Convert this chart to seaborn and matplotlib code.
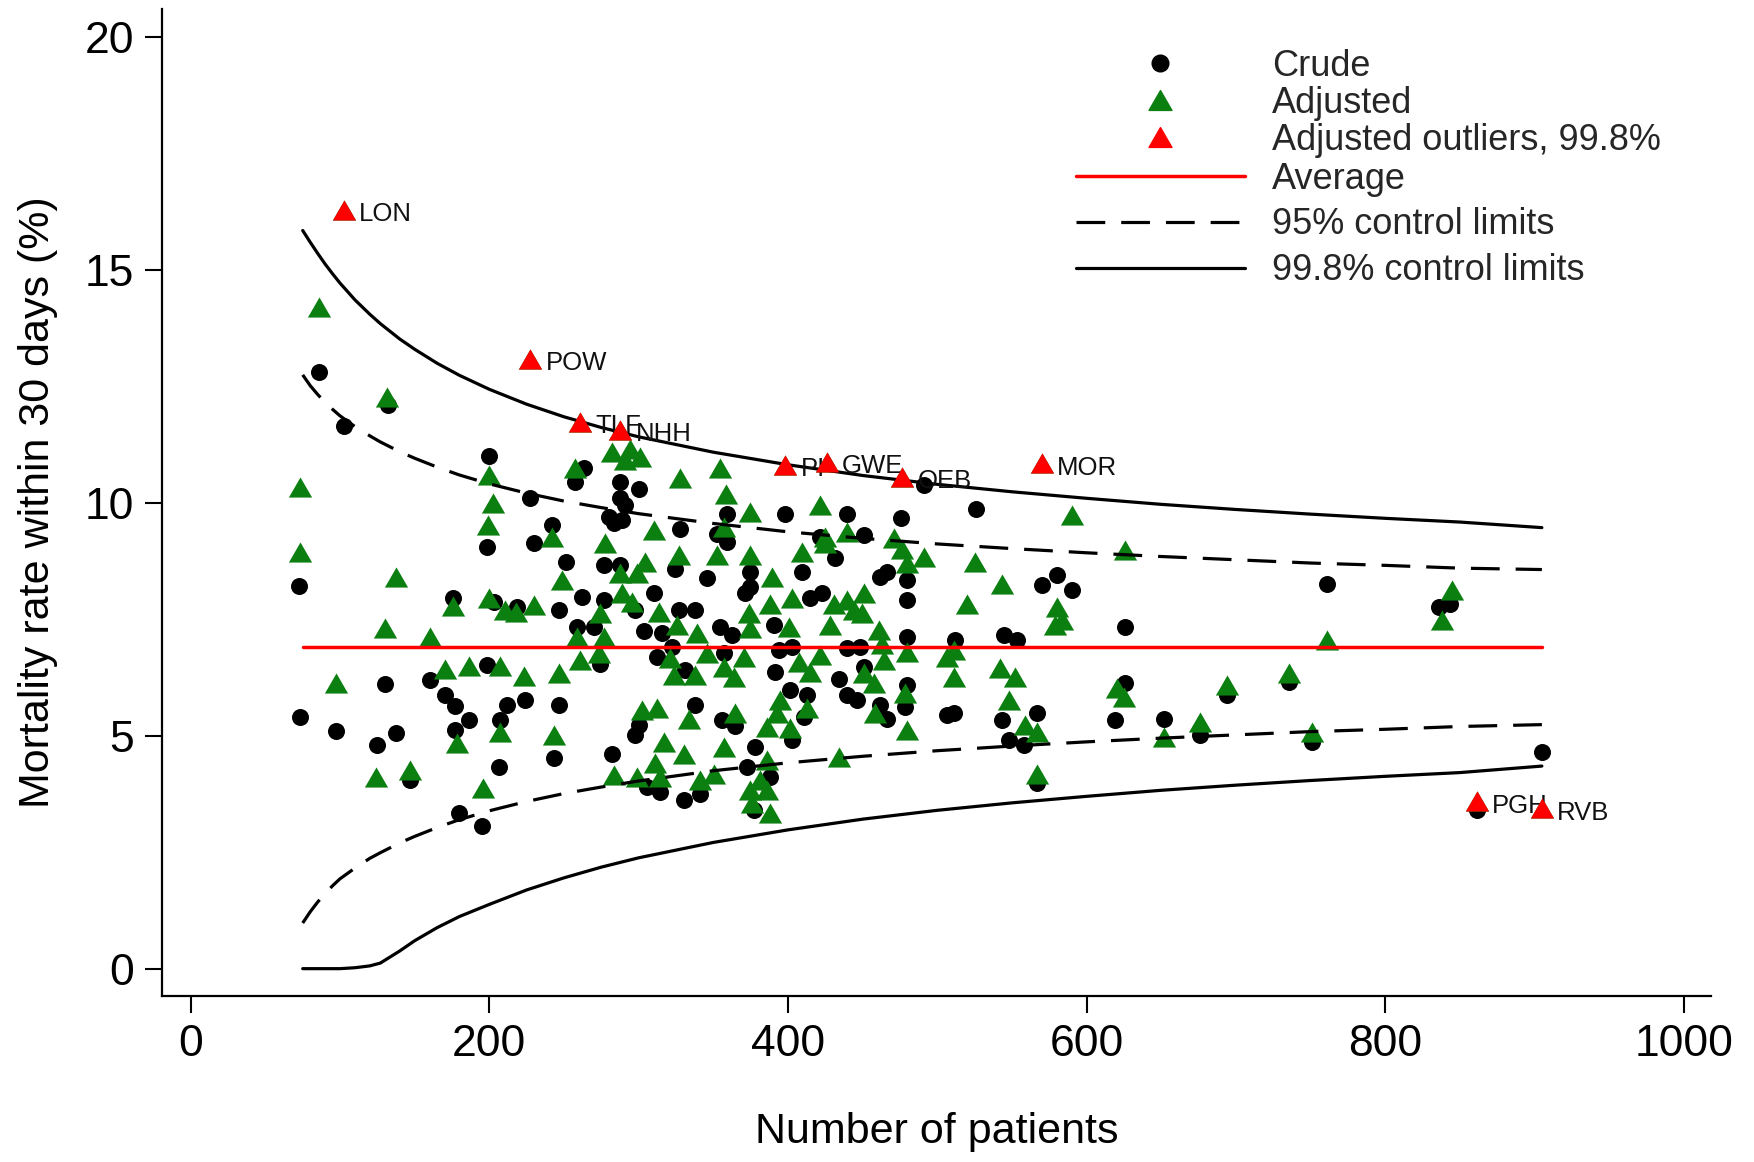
import numpy as np
import pandas as pd
import matplotlib
matplotlib.use("Agg")
import matplotlib.pyplot as plt
import seaborn as sns
from matplotlib.lines import Line2D
from matplotlib.path import Path
from matplotlib.markers import MarkerStyle

sns.set_theme(style="white")
plt.rcParams['font.family'] = ['Liberation Sans', 'DejaVu Sans']

# ---------------- data ----------------
crude_n = [102.5, 199.6, 198.5, 72.4, 175.7, 203, 218.6, 198.5, 130.4, 160.1,
           170.6, 177.3, 186.2, 211.9, 207, 73.5, 97.6, 124.8, 137.8, 177.3,
           146.7, 206.3, 179.5, 195.1, 132, 85.8,
           227.5, 257.6, 263.2, 287.8, 300, 287.8, 291.1, 280, 288.9, 283.3,
           242, 229.7, 327.9, 359.2, 352.5, 359.2, 251.6, 276.6, 287.8, 324.6,
           345.8, 374.8, 374.8, 371.5, 262.1, 246.5, 276.6, 297.8, 310.1, 326.8,
           338, 258.7, 269.9, 303.4, 315.7, 354.7, 362.5, 312.3, 322.4, 274.4,
           331.3, 357, 224, 246.5, 338, 300, 297.8, 355.8, 364.8, 378.2,
           243.1, 282.2, 305.6, 314.5, 330.2, 341.3, 372.6, 377.1,
           490.9, 526.1, 398.2, 439.5, 475.7, 450.7, 421.7, 431.7, 409.4, 461.9,
           466.3, 479.7, 479.7, 415, 422.8, 390.4, 479.7, 512.1, 393.8, 402.7,
           439.5, 448.5, 391.5, 434, 401.6, 412.7, 439.5, 446.2, 450.7, 479.7,
           478.6, 461.9, 466.3, 410.5, 402.7, 506.5, 511, 388.2,
           580.2, 570.2, 590.3, 626, 544.5, 553.5, 626, 543.4, 566.9, 547.9,
           557.9, 619.3, 651.7, 676.2, 694.1, 566.9,
           761, 735.4, 751, 835.8, 843.6, 905, 861.5]
crude_rate = [11.65, 11.0, 9.06, 8.21, 7.95, 7.88, 7.77, 6.52, 6.11, 6.2,
              5.87, 5.64, 5.35, 5.66, 5.34, 5.41, 5.11, 4.8, 5.07, 5.12,
              4.05, 4.34, 3.34, 3.06, 12.1, 12.82,
              10.1, 10.45, 10.74, 10.45, 10.31, 10.1, 9.95, 9.7, 9.63, 9.56,
              9.52, 9.13, 9.45, 9.77, 9.34, 9.17, 8.74, 8.67, 8.67, 8.59,
              8.38, 8.52, 8.2, 8.06, 7.99, 7.7, 7.91, 7.7, 8.06, 7.7,
              7.7, 7.34, 7.34, 7.24, 7.2, 7.34, 7.16, 6.7, 6.91, 6.55,
              6.41, 6.77, 5.77, 5.66, 5.66, 5.23, 5.02, 5.34, 5.2, 4.77,
              4.52, 4.62, 3.91, 3.8, 3.62, 3.76, 4.34, 3.41,
              10.38, 9.88, 9.77, 9.77, 9.67, 9.31, 9.27, 8.81, 8.52, 8.41,
              8.52, 8.34, 7.91, 7.95, 8.06, 7.38, 7.13, 7.05, 6.84, 6.91,
              6.88, 6.91, 6.38, 6.23, 5.98, 5.87, 5.87, 5.77, 6.48, 6.09,
              5.62, 5.66, 5.37, 5.41, 4.91, 5.45, 5.48, 4.12,
              8.45, 8.24, 8.13, 7.34, 7.16, 7.05, 6.13, 5.34, 5.48, 4.91,
              4.8, 5.34, 5.37, 5.02, 5.87, 3.98,
              8.27, 6.16, 4.87, 7.77, 7.84, 4.66, 3.41]

adj_n = [85.8, 131.5, 73.5, 73, 137.8, 130.4, 160.5, 175.7, 199.6, 210.8,
         218, 229.7, 199.6, 202.5, 199, 97.6, 170.6, 186.4, 207, 223,
         178.4, 207, 124.4, 146.7, 195.8,
         257.6, 282, 291, 301, 294, 328, 354.7, 358.7, 374.8, 357,
         310.5, 242, 277.7, 326.8, 352.5, 374.8, 304.5, 287.8, 299, 248.7,
         288.9, 295.6, 274.4, 313.4, 325.7, 339.1, 373.7, 374.8, 258.7, 276.6,
         261, 273.3, 321.2, 323.5, 338, 345.8, 357, 363.7, 370.3, 246.5,
         302.3, 312.3, 333.5, 364.8, 243.1, 316.8, 330.2, 357, 283.3, 299,
         311.2, 314.5, 341.3, 350.3, 374.8, 375.9,
         421.7, 439.5, 425, 425, 409.4, 470.8, 476.4, 479.7, 490.9, 525.5,
         389.3, 402.7, 388.2, 450.7, 430.6, 439.5, 444, 449.6, 428.4, 400.5,
         460.7, 463, 519.9, 421.7, 407.2, 415, 464.1, 479.7, 506.5, 511,
         511, 450.7, 457.4, 478.6, 394.9, 392.7, 412.7, 458.5, 386, 401.6,
         479.7, 434, 386, 381.5, 388.2, 386,
         590.3, 626, 543.4, 580.2, 583.6, 579.1, 542.3, 552.3, 547.9, 559,
         566.9, 620.4, 624.9, 694.1, 651.7, 676.2, 566.9,
         761, 735.4, 751, 844.7, 838]
adj_rate = [14.21, 12.28, 10.35, 8.95, 8.41, 7.31, 7.13, 7.79, 7.95, 7.7,
            7.65, 7.81, 10.6, 9.99, 9.52, 6.13, 6.43, 6.5, 6.5, 6.28,
            4.84, 5.09, 4.12, 4.27, 3.87,
            10.76, 11.1, 10.92, 10.98, 11.15, 10.53, 10.74, 10.2, 9.81, 9.49,
            9.42, 9.27, 9.13, 8.88, 8.88, 8.88, 8.74, 8.49, 8.49, 8.34,
            8.06, 7.88, 7.63, 7.66, 7.38, 7.2, 7.63, 7.31, 7.13, 7.13,
            6.63, 6.77, 6.66, 6.3, 6.3, 6.77, 6.48, 6.27, 6.7, 6.34,
            5.55, 5.59, 5.37, 5.48, 5.02, 4.87, 4.62, 4.77, 4.16, 4.12,
            4.41, 4.12, 4.05, 4.19, 3.84, 3.55,
            9.95, 9.38, 9.27, 9.13, 8.95, 9.24, 9.02, 8.7, 8.84, 8.74,
            8.41, 7.95, 7.84, 8.06, 7.84, 7.91, 7.7, 7.63, 7.38, 7.34,
            7.27, 6.98, 7.84, 6.73, 6.59, 6.38, 6.63, 6.8, 6.7, 6.84,
            6.27, 6.34, 6.13, 5.91, 5.77, 5.48, 5.59, 5.48, 5.19, 5.16,
            5.12, 4.55, 4.48, 4.05, 3.34, 3.84,
            9.74, 8.99, 8.27, 7.77, 7.49, 7.38, 6.45, 6.27, 5.77, 5.23,
            5.09, 6.02, 5.84, 6.09, 4.98, 5.3, 4.19,
            7.06, 6.34, 5.09, 8.13, 7.49]

out_codes = ["LON", "POW", "TLF", "NHH", "PI", "GWE", "OEB", "MOR", "PGH", "RVB"]
out_n = [102.5, 227.5, 261, 287.8, 398.2, 426.1, 476.4, 570.2, 861.5, 905]
out_rate = [16.3, 13.1, 11.74, 11.56, 10.81, 10.88, 10.56, 10.85, 3.59, 3.44]

limit_n = [75, 80, 85, 90, 95, 100, 110, 120, 127, 140, 150, 165, 180, 200, 225,
           250, 275, 300, 350, 400, 450, 500, 550, 600, 650, 700, 750, 800, 850, 905]
average = [6.9] * 30
upper95 = [12.75, 12.52, 12.33, 12.16, 12.01, 11.87, 11.64, 11.44, 11.31, 11.10,
           10.96, 10.77, 10.60, 10.41, 10.21, 10.04, 9.90, 9.77, 9.56, 9.38,
           9.24, 9.12, 9.02, 8.93, 8.85, 8.78, 8.71, 8.66, 8.60, 8.57]
lower95 = [0.98, 1.22, 1.43, 1.61, 1.78, 1.93, 2.16, 2.37, 2.49, 2.70,
           2.84, 3.03, 3.20, 3.39, 3.59, 3.76, 3.90, 4.03, 4.25, 4.42,
           4.56, 4.68, 4.78, 4.87, 4.95, 5.02, 5.09, 5.14, 5.20, 5.24]
upper998 = [15.85, 15.60, 15.36, 15.13, 14.92, 14.72, 14.36, 14.05, 13.85, 13.52,
            13.30, 13.00, 12.74, 12.44, 12.12, 11.85, 11.62, 11.42, 11.09, 10.82,
            10.59, 10.40, 10.24, 10.10, 9.97, 9.86, 9.76, 9.67, 9.59, 9.47]
lower998 = [0, 0, 0, 0, 0, 0, 0.02, 0.06, 0.12, 0.38,
            0.60, 0.88, 1.12, 1.38, 1.69, 1.95, 2.18, 2.38, 2.71, 2.98,
            3.21, 3.40, 3.56, 3.70, 3.83, 3.94, 4.04, 4.13, 4.21, 4.35]

# ---------------- styling ----------------
GREEN = "#0b7f10"
RED = "#ff0000"
tri = MarkerStyle(Path([(-1, -0.866), (1, -0.866), (0, 0.866), (-1, -0.866)],
                       [Path.MOVETO, Path.LINETO, Path.LINETO, Path.CLOSEPOLY]))
S_CIRC = 150
S_TRI = 280

crude_df = pd.DataFrame({"n": crude_n, "rate": crude_rate})
adj_df = pd.DataFrame({"n": adj_n + out_n, "rate": adj_rate + out_rate})
out_df = pd.DataFrame({"n": out_n, "rate": out_rate, "code": out_codes})
lim_df = pd.DataFrame({"n": limit_n, "avg": average, "u95": upper95, "l95": lower95,
                       "u998": upper998, "l998": lower998})

fig = plt.figure(figsize=(17.54, 11.62), dpi=100)
ax = fig.add_axes([0.0924, 0.1429, 0.8831, 0.8491])

sns.scatterplot(data=crude_df, x="n", y="rate", ax=ax, color="black", marker="o",
                s=S_CIRC, linewidth=0, zorder=2)
sns.scatterplot(data=adj_df, x="n", y="rate", ax=ax, color=GREEN, marker=tri,
                s=S_TRI, linewidth=0, zorder=2.5)

dash = (0, (9, 5))
for col, ls in [("u95", dash), ("l95", dash), ("u998", "-"), ("l998", "-")]:
    sns.lineplot(data=lim_df, x="n", y=col, ax=ax, color="black", linewidth=2.3,
                 linestyle=ls, sort=False, estimator=None, zorder=3)
sns.lineplot(data=lim_df, x="n", y="avg", ax=ax, color=RED, linewidth=2.5,
             sort=False, estimator=None, zorder=3)

for code, n, r in zip(out_codes, out_n, out_rate):
    ax.annotate(code, (n, r), xytext=(11, -3), textcoords="offset points",
                fontsize=18.5, ha="left", va="center", color="#111111", zorder=3.5)

sns.scatterplot(data=out_df, x="n", y="rate", ax=ax, color=RED, marker=tri,
                s=S_TRI, linewidth=0, zorder=4)

ax.set_xlim(-19.2, 1018.3)
ax.set_ylim(-0.586, 20.6)
ax.set_xticks([0, 200, 400, 600, 800, 1000])
ax.set_yticks([0, 5, 10, 15, 20])
for side in ["top", "right"]:
    ax.spines[side].set_visible(False)
for side in ["left", "bottom"]:
    ax.spines[side].set_linewidth(1.6)
    ax.spines[side].set_color("black")
ax.tick_params(axis="both", direction="out", length=12, width=1.5, labelsize=32,
               pad=8, color="black", labelcolor="black", left=True, bottom=True)
ax.set_xlabel("Number of patients", fontsize=31, color="black")
ax.set_ylabel("Mortality rate within 30 days (%)", fontsize=31, color="black")
ax.yaxis.set_label_coords(-0.067, 0.5)
ax.xaxis.set_label_coords(0.5, -0.118)
ax.grid(False)

marker_handles = [
    Line2D([], [], marker="o", linestyle="", color="black", markersize=12),
    Line2D([], [], marker=tri, linestyle="", color=GREEN, markersize=16.5),
    Line2D([], [], marker=tri, linestyle="", color=RED, markersize=16.5),
]
marker_labels = ["Crude", "Adjusted", "Adjusted outliers, 99.8%"]
line_handles = [
    Line2D([], [], color=RED, linewidth=2.5),
    Line2D([], [], color="black", linewidth=2.3, linestyle=dash),
    Line2D([], [], color="black", linewidth=2.3),
]
line_labels = ["Average", "95% control limits", "99.8% control limits"]

common = dict(loc="upper left", bbox_transform=fig.transFigure, frameon=False,
              fontsize=26, handlelength=4.67, handletextpad=0.75,
              borderpad=0, borderaxespad=0, numpoints=1)
fig.legend(marker_handles, marker_labels, bbox_to_anchor=(0.6135, 0.9582),
           labelspacing=0.06, **common)
fig.legend(line_handles, line_labels, bbox_to_anchor=(0.6135, 0.8609),
           labelspacing=0.30, **common)

fig.savefig("out.png", dpi=100)
